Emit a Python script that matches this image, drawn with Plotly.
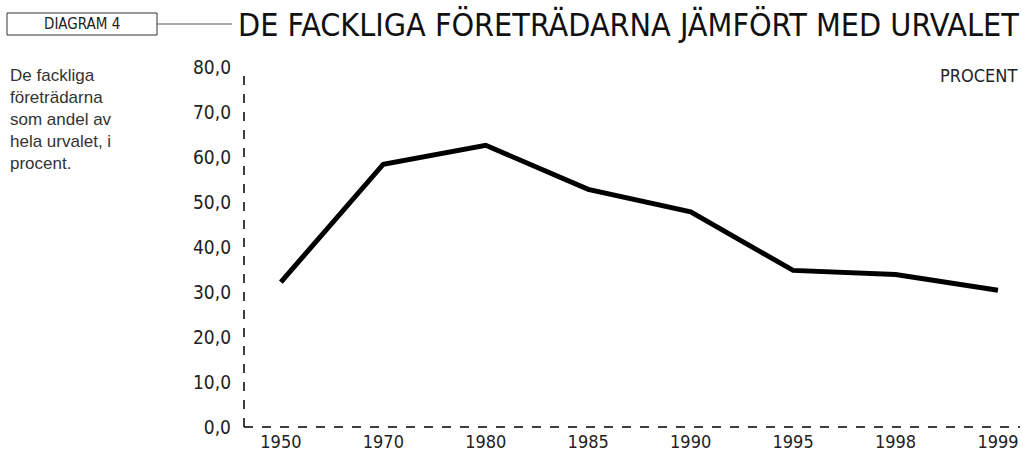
import plotly.graph_objects as go

years = ["1950", "1970", "1980", "1985", "1990", "1995", "1998", "1999"]
share = [32.2, 58.4, 62.6, 52.8, 47.8, 34.8, 33.9, 30.4]
y_ticks = [0, 10, 20, 30, 40, 50, 60, 70, 80]
y_tick_text = ["0,0", "10,0", "20,0", "30,0", "40,0", "50,0", "60,0", "70,0", "80,0"]

W, H = 1023, 459
ML, MR, MT, MB = 244, 3, 67, 32
PW, PH = W - ML - MR, H - MT - MB


def px(x):
    return (x - ML) / PW


def py(y):
    return (H - MB - y) / PH


xpos = list(range(len(years)))

fig = go.Figure()
fig.add_trace(go.Scatter(
    x=xpos, y=share, mode="lines",
    line=dict(color="black", width=5),
    hoverinfo="skip", showlegend=False,
))

FONT = "DejaVu Sans Condensed, Liberation Sans, sans-serif"
fig.update_layout(
    width=W, height=H,
    margin=dict(l=ML, r=MR, t=MT, b=MB),
    paper_bgcolor="white", plot_bgcolor="white",
    xaxis=dict(
        range=[-0.36, 7.215], tickvals=xpos, ticktext=years,
        showgrid=False, zeroline=False, showline=False, ticks="",
        tickfont=dict(family=FONT, size=18, color="#222"),
        ticklabelstandoff=2,
    ),
    yaxis=dict(
        range=[0, 80], tickvals=y_ticks, ticktext=y_tick_text,
        showgrid=False, zeroline=False, showline=False, ticks="",
        tickfont=dict(family=FONT, size=19, color="#222"),
        ticklabelstandoff=12,
    ),
    shapes=[
        dict(type="line", xref="paper", yref="paper", x0=0, x1=0, y0=0, y1=1,
             line=dict(color="black", width=1.5, dash="dash")),
        dict(type="line", xref="paper", yref="paper", x0=0, x1=1, y0=0, y1=0,
             line=dict(color="black", width=1.5, dash="dash")),
        dict(type="rect", xref="paper", yref="paper", x0=px(7), x1=px(157),
             y0=py(35), y1=py(13), line=dict(color="#333", width=1)),
        dict(type="line", xref="paper", yref="paper", x0=px(157), x1=px(232),
             y0=py(24), y1=py(24), line=dict(color="#555", width=1)),
    ],
    annotations=[
        dict(text="DIAGRAM 4", xref="paper", yref="paper", x=px(82), y=py(24),
             xanchor="center", yanchor="middle", showarrow=False,
             font=dict(family=FONT, size=15, color="#222")),
        dict(text="DE FACKLIGA FÖRETRÄDARNA JÄMFÖRT MED URVALET",
             xref="paper", yref="paper", x=px(1021), y=py(25),
             xanchor="right", yanchor="middle", showarrow=False,
             font=dict(family=FONT, size=32, color="#111")),
        dict(text="PROCENT", xref="paper", yref="paper", x=px(1019), y=py(75),
             xanchor="right", yanchor="middle", showarrow=False,
             font=dict(family=FONT, size=18, color="#222")),
        dict(text="De fackliga<br>företrädarna<br>som andel av<br>hela urvalet, i<br>procent.",
             xref="paper", yref="paper", x=px(8), y=py(64),
             xanchor="left", yanchor="top", align="left", showarrow=False,
             font=dict(family="Liberation Sans, sans-serif", size=17, color="#333")),
    ],
)

fig.write_html("out.html", config={"displayModeBar": False},
               post_script="document.body.style.margin='0';")
